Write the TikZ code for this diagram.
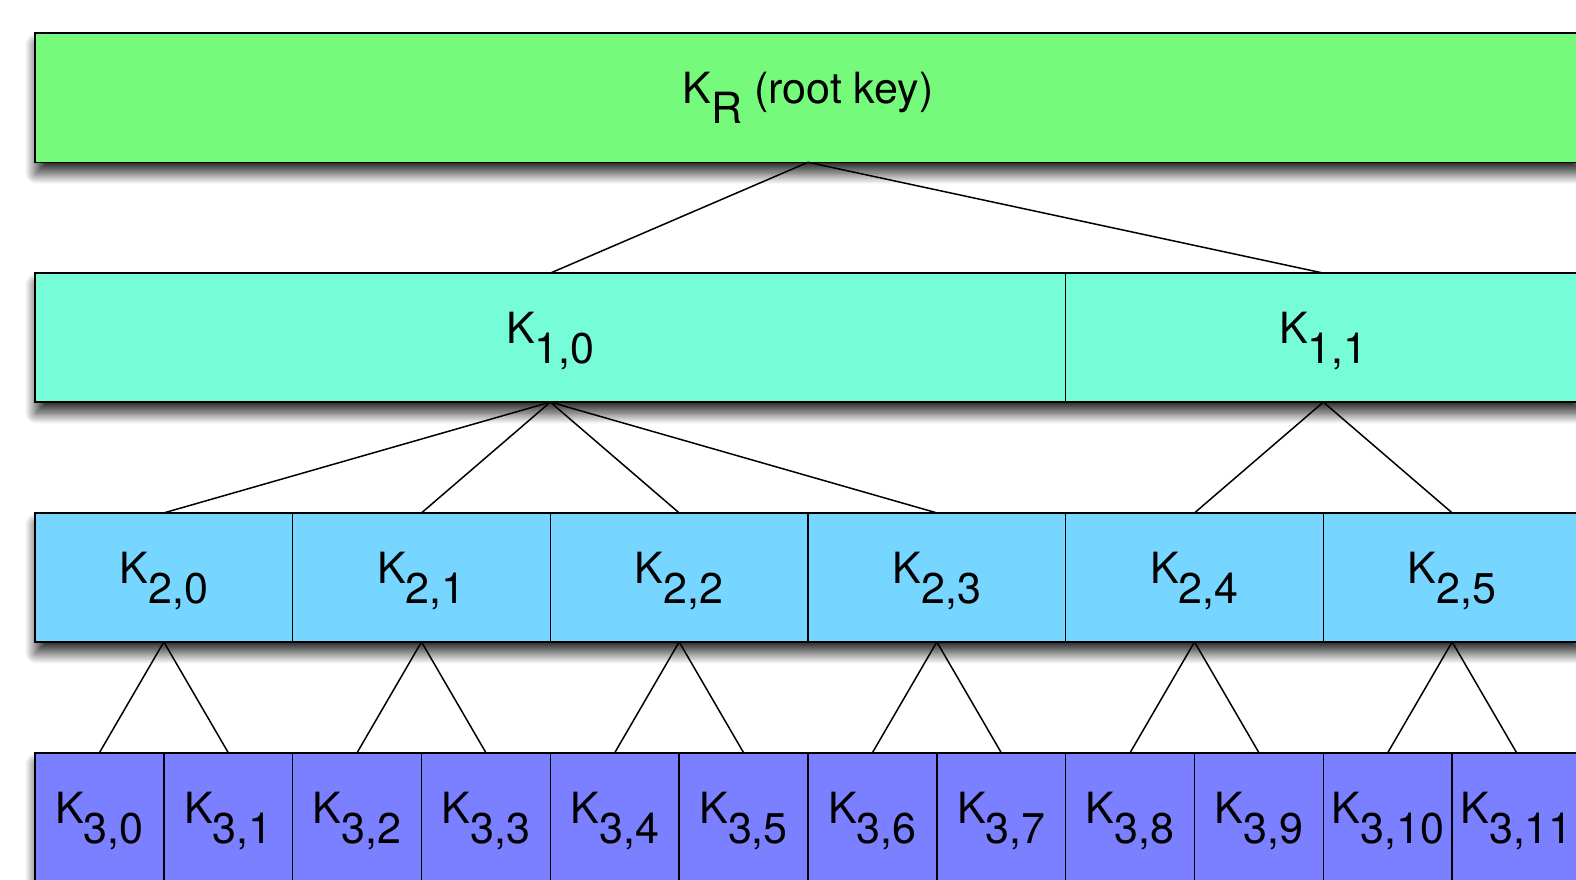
\documentclass[tikz,border=0pt]{standalone}
\usepackage{fontspec}
\setmainfont{TeX Gyre Heros}
\usetikzlibrary{shadows.blur}
\definecolor{cR}{RGB}{118,250,123}
\definecolor{cA}{RGB}{118,253,215}
\definecolor{cB}{RGB}{118,214,255}
\definecolor{cC}{RGB}{122,128,255}
\newcommand{\Klab}[2][]{\raisebox{-6pt}{K\raisebox{-20pt}{#2}#1}}
\begin{document}
\begin{tikzpicture}[x=1pt,y=-1pt,
  key/.style={draw=black, line width=1.6pt, minimum height=129pt, inner sep=0pt, outer sep=0pt,
    text height=0pt, text depth=0pt, font=\fontsize{43}{48}\selectfont, anchor=north west},
  rowshadow/.style={fill=white, blur shadow={shadow xshift=1pt, shadow yshift=-11pt, shadow blur radius=11pt, shadow blur steps=30, shadow opacity=85}},
  link/.style={draw=black, line width=1.5pt}]
\useasboundingbox (0,0) rectangle (1576,880);
\clip (0,0) rectangle (1576,880);
% shadows
\fill[rowshadow] (35,33.3) rectangle (1581,162.3);
\fill[rowshadow] (35,273.1) rectangle (1581,402.1);
\fill[rowshadow] (35,512.9) rectangle (1581,641.9);
\fill[rowshadow] (35,752.7) rectangle (1581,881.7);
% root
\node[key, fill=cR, minimum width=1546pt] (r) at (35,33.3) {\Klab[ (root key)]{R}};
% level 1
\node[key, fill=cA, minimum width=1030.67pt] (a0) at (35,273.1) {\Klab{1,0}};
\node[key, fill=cA, minimum width=515.33pt] (a1) at (1065.67,273.1) {\Klab{1,1}};
% level 2
\foreach \i in {0,...,5} {
  \node[key, fill=cB, minimum width=257.67pt] (b\i) at ({35+\i*257.667},512.9) {\Klab{2,\i}};
}
% level 3
\foreach \i in {0,...,11} {
  \node[key, fill=cC, minimum width=128.83pt] (c\i) at ({35+\i*128.833},752.7) {\Klab{3,\i}};
}
% connectors
\draw[link] (r.south) -- (a0.north);
\draw[link] (r.south) -- (a1.north);
\foreach \i in {0,...,3} { \draw[link] (a0.south) -- (b\i.north); }
\foreach \i in {4,5} { \draw[link] (a1.south) -- (b\i.north); }
\foreach \i in {0,...,5} {
  \pgfmathtruncatemacro{\ja}{2*\i}
  \pgfmathtruncatemacro{\jb}{2*\i+1}
  \draw[link] (b\i.south) -- (c\ja.north);
  \draw[link] (b\i.south) -- (c\jb.north);
}
\end{tikzpicture}
\end{document}
